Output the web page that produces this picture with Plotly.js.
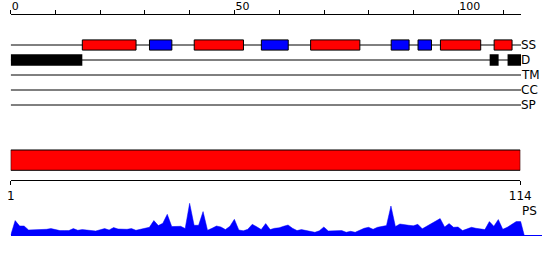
<!DOCTYPE html>
<html>
<head>
<meta charset="utf-8">
<script src="https://cdn.plot.ly/plotly-3.0.1.min.js"></script>
<style>html,body{margin:0;padding:0;background:#fff;}#chart{width:550px;height:260px;}</style>
</head>
<body>
<div id="chart"></div>
<script>
// ---- data ----
const seqLen = 114;
const trackNames = ["SS", "D", "TM", "CC", "SP"];
// secondary structure segments (H = helix, E = strand)
const ssStart = [16, 31, 41, 56, 67, 85, 91, 96, 108];
const ssEnd   = [28, 36, 52, 62, 78, 89, 94, 105, 112];
const ssType  = ["H", "E", "H", "E", "H", "E", "E", "H", "H"];
// disorder segments
const dStart = [0, 107, 111];
const dEnd   = [16, 109, 114];
// per-residue PS profile (residues 1..114)
const psVals = [
  14.7, 9.3, 9.3, 5.3, 5.3, 5.3, 5.3, 6.0, 6.7, 5.5,
  4.7, 4.7, 4.7, 6.7, 5.0, 5.7, 5.0, 4.5, 4.3, 5.5,
  6.7, 5.3, 7.7, 6.3, 6.0, 6.0, 6.7, 5.0, 6.0, 7.0,
  8.0, 14.7, 9.7, 12.0, 21.0, 8.7, 9.0, 9.0, 6.7, 32.0,
  10.0, 10.0, 23.7, 5.0, 7.0, 9.3, 8.3, 5.7, 9.0, 16.0,
  5.3, 4.5, 6.0, 11.0, 8.5, 5.7, 11.7, 5.7, 7.0, 7.5,
  9.0, 10.3, 7.0, 4.7, 5.7, 4.7, 3.5, 3.0, 4.5, 8.3,
  4.3, 4.5, 4.5, 4.7, 3.0, 4.0, 3.0, 5.3, 7.0, 8.0,
  6.0, 8.0, 9.0, 9.7, 29.3, 8.7, 11.3, 11.0, 10.0, 9.5,
  11.0, 6.5, 9.0, 12.3, 14.0, 16.7, 8.3, 11.7, 8.0, 8.3,
  4.7, 6.5, 8.0, 7.0, 6.0, 5.7, 13.7, 9.0, 15.7, 6.0,
  8.0, 11.0, 13.7, 13.7
];
const psLabel = "PS";

// ---- build ----
const font = {family: "DejaVu Sans", size: 11, color: "#000"};
const labelFont = {family: "DejaVu Sans", size: 12, color: "#000"};
const traces = [];
const shapes = [];
const annotations = [];

trackNames.forEach((name, k) => {
  traces.push({x: [0, seqLen], y: [k, k], xaxis: "x", yaxis: "y", mode: "lines",
    line: {color: "#000", width: 1}, hoverinfo: "skip"});
  annotations.push({x: seqLen, y: k, xref: "x", yref: "y", text: name, showarrow: false,
    xanchor: "left", yanchor: "middle", font: labelFont, xshift: -2});
});

ssStart.forEach((s, i) => {
  shapes.push({type: "rect", xref: "x", yref: "y", x0: s, x1: ssEnd[i], y0: -0.34, y1: 0.34,
    fillcolor: ssType[i] === "H" ? "#ff0000" : "#0000ff", line: {color: "#000", width: 1}});
});
dStart.forEach((s, i) => {
  shapes.push({type: "rect", xref: "x", yref: "y", x0: s, x1: dEnd[i], y0: 1 - 0.39, y1: 1 + 0.39,
    fillcolor: "#000", line: {color: "#000", width: 0}});
});

// full sequence bar
shapes.push({type: "rect", xref: "x2", yref: "y2", x0: 1, x1: seqLen, y0: 0.2857, y1: 0.866,
  fillcolor: "#ff0000", line: {color: "#000", width: 1}});
// invisible trace so x2/y2 exist
traces.push({x: [1, seqLen], y: [0.5, 0.5], xaxis: "x2", yaxis: "y2", mode: "markers",
  marker: {opacity: 0}, hoverinfo: "skip"});

// PS profile
const psX = [0].concat(psVals.map((v, i) => i + 1), [seqLen + 0.8]);
const psY = [0].concat(psVals, [0]);
traces.push({x: psX, y: psY, xaxis: "x3", yaxis: "y3", mode: "lines", fill: "tozeroy",
  fillcolor: "#0000ff", line: {color: "#0000ff", width: 0.5}, hoverinfo: "skip"});
annotations.push({x: seqLen, y: 24, xref: "x3", yref: "y3", text: psLabel, showarrow: false,
  xanchor: "left", yanchor: "middle", font: labelFont, xshift: -1});

const layout = {
  width: 550, height: 260,
  margin: {l: 0, r: 0, t: 0, b: 0},
  paper_bgcolor: "#fff", plot_bgcolor: "rgba(0,0,0,0)",
  showlegend: false,
  xaxis: {domain: [10.7 / 550, 521 / 550], range: [0, seqLen], side: "top", anchor: "y",
    showline: true, linecolor: "#000", linewidth: 1, showgrid: false, zeroline: false,
    ticks: "outside", ticklen: 4, tickcolor: "#000", tickwidth: 1, tick0: 0, dtick: 50,
    minor: {dtick: 10, ticks: "outside", ticklen: 4, tickcolor: "#000", tickwidth: 1, showgrid: false},
    ticklabelposition: "outside right", tickfont: font},
  yaxis: {domain: [1 - 127.5 / 260, 1 - 15 / 260], range: [5.5, -2], visible: false},
  xaxis2: {domain: [10.7 / 550, 520.3 / 550], range: [1, seqLen], anchor: "y2", side: "bottom",
    showline: true, linecolor: "#000", linewidth: 1, showgrid: false, zeroline: false,
    ticks: "outside", ticklen: 4, tickcolor: "#000", tickvals: [1, seqLen], tickfont: labelFont},
  yaxis2: {domain: [1 - 180.3 / 260, 1 - 145.3 / 260], range: [0, 1], visible: false},
  xaxis3: {domain: [10.7 / 550, 541.7 / 550], range: [0, 118.7], anchor: "y3",
    showline: true, linecolor: "#0000ff", linewidth: 1, showgrid: false, zeroline: false,
    ticks: "", showticklabels: false},
  yaxis3: {domain: [1 - 235.3 / 260, 1 - 200 / 260], range: [0, 35.3], visible: false},
  shapes: shapes,
  annotations: annotations
};

Plotly.newPlot("chart", traces, layout, {staticPlot: true, displayModeBar: false});
</script>
</body>
</html>
